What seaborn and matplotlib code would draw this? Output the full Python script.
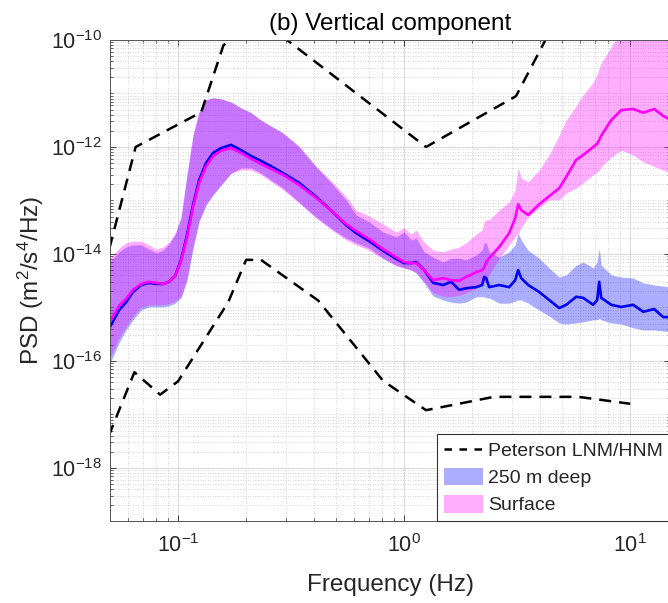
import numpy as np
import pandas as pd
import seaborn as sns
import matplotlib
matplotlib.use("Agg")
import matplotlib.pyplot as plt
from matplotlib.lines import Line2D
from matplotlib.patches import Patch
from matplotlib.ticker import FixedLocator, LogLocator, LogFormatterSciNotation, NullFormatter

# frequencies (Hz) where the PSD curves were read
freq = [0.050, 0.0548, 0.0589, 0.0632, 0.0686, 0.0744, 0.0799, 0.0858, 0.0912, 0.0970,
        0.1031, 0.1096, 0.1165, 0.1239, 0.1330, 0.1429, 0.1550, 0.1716, 0.1900, 0.2104,
        0.2329, 0.2579, 0.2914, 0.3430, 0.4079, 0.4851, 0.5538, 0.6132, 0.7002, 0.8074,
        0.9217, 1.000, 1.074, 1.130, 1.226, 1.344, 1.488, 1.614, 1.751, 1.881,
        2.083, 2.214, 2.259, 2.306, 2.377, 2.633, 2.915, 3.099, 3.195, 3.294,
        3.537, 3.956, 4.381, 4.852, 5.211, 5.768, 6.194, 6.860, 7.145, 7.292,
        7.442, 8.241, 9.124, 10.31, 11.42, 12.77, 14.00, 15.18]

# PSD values in dB (10*log10 of m^2/s^4/Hz)
deep_median_db = [-153.6, -150.5, -149.0, -147.1, -145.8, -145.4, -145.6, -145.6, -145.2, -144.1,
                  -141.1, -136.4, -130.8, -126.2, -123.0, -121.1, -120.2, -119.6, -120.6, -121.7,
                  -122.6, -123.6, -124.9, -126.7, -129.3, -132.2, -134.6, -136.1, -137.6, -139.4,
                  -140.9, -141.7, -141.7, -141.5, -143.0, -145.4, -145.8, -145.2, -146.7, -146.4,
                  -146.2, -145.8, -144.3, -144.5, -146.2, -145.8, -146.2, -144.9, -143.0, -144.5,
                  -145.8, -147.1, -148.6, -150.1, -149.5, -148.0, -148.2, -149.5, -148.6, -145.2,
                  -148.2, -149.5, -149.9, -149.5, -150.8, -150.3, -151.8, -151.8]
deep_upper_db = [-141.5, -139.6, -138.7, -138.3, -138.3, -139.1, -139.8, -139.3, -138.1, -136.4,
                 -133.3, -125.2, -117.8, -113.5, -111.2, -110.8, -111.0, -111.6, -112.7, -113.6,
                 -115.0, -116.1, -117.4, -120.0, -123.7, -127.1, -129.9, -132.7, -134.0, -135.9,
                 -136.8, -135.9, -137.4, -137.0, -139.6, -140.6, -141.5, -140.8, -140.8, -141.1,
                 -140.2, -139.3, -137.9, -137.9, -139.6, -140.6, -139.6, -138.3, -136.1, -137.4,
                 -139.3, -140.8, -142.6, -144.3, -143.9, -142.1, -141.5, -142.6, -141.5, -138.9,
                 -142.1, -143.9, -144.3, -144.5, -145.4, -145.8, -146.0, -146.2]
deep_lower_db = [-160.4, -156.6, -154.2, -152.3, -150.5, -149.9, -149.9, -149.9, -149.7, -149.2,
                 -148.2, -144.9, -138.9, -134.0, -130.8, -129.0, -127.1, -124.9, -123.9, -123.9,
                 -124.9, -126.2, -127.7, -130.3, -133.1, -135.5, -137.0, -137.9, -138.9, -140.8,
                 -142.1, -142.6, -143.0, -143.6, -145.4, -147.9, -148.6, -149.0, -149.2, -149.0,
                 -148.0, -148.0, -148.0, -148.2, -148.2, -149.2, -149.2, -148.8, -148.6, -148.6,
                 -149.2, -150.5, -151.6, -152.9, -153.1, -152.9, -152.7, -152.3, -152.3, -152.0,
                 -152.3, -152.9, -153.1, -153.8, -154.2, -154.2, -154.4, -154.6]

surf_median_db = [-152.7, -149.7, -148.4, -146.7, -145.6, -145.2, -145.4, -145.6, -145.2, -144.1,
                  -141.3, -136.8, -131.2, -126.7, -123.6, -121.7, -120.7, -120.2, -121.1, -122.2,
                  -123.2, -124.1, -125.2, -127.1, -129.5, -132.2, -134.4, -135.7, -137.2, -139.1,
                  -140.6, -141.5, -141.7, -141.7, -143.0, -144.9, -144.5, -144.9, -145.0, -144.3,
                  -143.4, -143.0, -142.6, -141.5, -140.8, -138.7, -136.1, -133.3, -130.7, -131.8,
                  -132.7, -130.7, -129.2, -127.7, -125.6, -122.4, -121.5, -120.0, -119.4, -118.7,
                  -117.9, -115.0, -113.1, -112.9, -113.6, -112.9, -114.2, -115.0]
surf_upper_db = [-140.8, -138.9, -137.9, -137.6, -137.6, -138.3, -139.1, -138.7, -137.8, -136.1,
                 -132.9, -125.0, -117.6, -113.3, -111.2, -110.8, -111.0, -111.6, -112.7, -113.6,
                 -115.0, -116.1, -117.4, -119.8, -123.6, -126.7, -129.3, -131.8, -132.9, -134.4,
                 -135.9, -135.1, -136.3, -135.5, -137.8, -139.3, -139.6, -139.1, -138.7, -137.9,
                 -136.3, -135.5, -134.0, -133.6, -133.6, -131.8, -130.3, -128.0, -123.9, -125.8,
                 -126.5, -124.3, -121.5, -117.8, -115.0, -112.3, -110.3, -107.9, -106.4, -105.2,
                 -104.3, -101.3, -98.1, -95.3, -94.4, -94.4, -94.4, -94.4]
surf_lower_db = [-159.4, -155.7, -153.5, -151.6, -149.9, -149.5, -149.5, -149.5, -149.3, -148.8,
                 -147.9, -144.5, -138.5, -133.6, -130.7, -128.8, -127.1, -124.9, -124.3, -124.3,
                 -125.2, -126.5, -128.0, -130.5, -133.3, -135.7, -137.4, -138.3, -139.3, -140.9,
                 -142.2, -142.6, -143.0, -143.4, -145.2, -147.3, -147.9, -148.0, -147.7, -147.3,
                 -146.4, -145.8, -145.4, -144.9, -143.9, -140.8, -138.3, -136.8, -136.1, -135.1,
                 -133.1, -131.4, -129.9, -129.9, -128.6, -127.7, -126.7, -125.2, -124.7, -124.3,
                 -123.7, -121.9, -120.6, -121.5, -122.8, -123.6, -124.3, -125.0]

# Peterson (1993) noise models, breakpoints in Hz / dB
nlnm_freq = [0.0457, 0.0641, 0.0833, 0.1, 0.1667, 0.2, 0.2326, 0.4167, 0.8065, 1.25, 2.5, 5.882, 10.0]
nlnm_db = [-177.5, -162.1, -166.3, -163.8, -149.0, -141.1, -141.1, -148.7, -163.7, -169.2, -166.7, -166.7, -168.0]
nhnm_freq = [0.04, 0.05, 0.0649, 0.1266, 0.1587, 0.2174, 0.2632, 1.25, 3.125, 4.545, 10.0]
nhnm_db = [-137.5, -138.5, -120.0, -113.5, -101.0, -96.5, -98.0, -120.0, -110.5, -97.4, -91.5]


def db_to_psd(db):
    return 10 ** (np.asarray(db) / 10.0)


df = pd.DataFrame({
    "freq": freq,
    "deep_med": db_to_psd(deep_median_db),
    "deep_lo": db_to_psd(deep_lower_db),
    "deep_hi": db_to_psd(deep_upper_db),
    "surf_med": db_to_psd(surf_median_db),
    "surf_lo": db_to_psd(surf_lower_db),
    "surf_hi": db_to_psd(surf_upper_db),
})

sns.set_style("ticks")
plt.rcParams["font.family"] = ["Liberation Sans", "DejaVu Sans"]
plt.rcParams["mathtext.fontset"] = "custom"
plt.rcParams["mathtext.rm"] = "Liberation Sans"
plt.rcParams["mathtext.it"] = "Liberation Sans:italic"
plt.rcParams["mathtext.bf"] = "Liberation Sans:bold"
plt.rcParams["mathtext.default"] = "regular"

txt = "#262626"
fig = plt.figure(figsize=(6.68, 6.03), dpi=100)
ax = fig.add_axes([0.1647, 0.1352, 0.8383, 0.7985])
ax.set_xscale("log")
ax.set_yscale("log")

# shaded ranges
ax.fill_between(df["freq"], df["deep_lo"], df["deep_hi"], color=(0, 0, 1), alpha=0.32, lw=0)
ax.fill_between(df["freq"], df["surf_lo"], df["surf_hi"], color=(1, 0, 1), alpha=0.32, lw=0)

# medians
sns.lineplot(data=df, x="freq", y="deep_med", color=(0, 0, 0.95), lw=1.9, ax=ax, legend=False)
sns.lineplot(data=df, x="freq", y="surf_med", color=(1, 0, 1), lw=1.9, ax=ax, legend=False)

# Peterson noise models
for fx, db in [(nlnm_freq, nlnm_db), (nhnm_freq, nhnm_db)]:
    ln, = ax.plot(fx, db_to_psd(db), color="k", lw=1.8)
    ln.set_dashes((4.8, 3.2))

ax.set_xlim(0.05, 15)
ax.set_ylim(1e-19, 1e-10)

ax.yaxis.set_major_locator(FixedLocator([1e-18, 1e-16, 1e-14, 1e-12, 1e-10]))
ax.yaxis.set_minor_locator(LogLocator(base=10, subs=np.arange(1, 10), numticks=40))
ax.yaxis.set_major_formatter(LogFormatterSciNotation())
ax.yaxis.set_minor_formatter(NullFormatter())
ax.xaxis.set_major_locator(FixedLocator([0.1, 1, 10]))
ax.xaxis.set_minor_locator(LogLocator(base=10, subs=np.arange(2, 10), numticks=20))
ax.xaxis.set_minor_formatter(NullFormatter())

ax.grid(which="major", color="#d9d9d9", lw=0.7, ls="-")
ax.grid(which="minor", color="#c8c8c8", lw=0.6, ls=(0, (1, 2)))
ax.set_axisbelow(True)

ax.tick_params(which="both", direction="in", top=True, right=True, colors=txt,
               labelsize=15.5, labelcolor=txt)
ax.tick_params(which="major", length=4.5, width=0.6)
ax.tick_params(which="minor", length=2.5, width=0.5)
ax.tick_params(axis="y", pad=6)
ax.tick_params(axis="x", pad=9)
for sp in ax.spines.values():
    sp.set_color("#555555")
    sp.set_linewidth(0.7)

ax.set_title("(b) Vertical component", fontsize=17.5, color="k", pad=7)
ax.set_xlabel("Frequency (Hz)", fontsize=17.5, color=txt, labelpad=12)
ax.set_ylabel("PSD (m$^2$/s$^4$/Hz)", fontsize=17.5, color=txt, labelpad=3)

handles = [
    Line2D([0], [0], color="k", lw=1.8, dashes=(3.0, 3.0)),
    Patch(facecolor=(0, 0, 1), alpha=0.32, edgecolor="none"),
    Patch(facecolor=(1, 0, 1), alpha=0.32, edgecolor="none"),
]
leg = ax.legend(handles, ["Peterson LNM/HNM", "250 m deep", "Surface"],
                loc="lower right", bbox_to_anchor=(1.0, 0.0), borderaxespad=0,
                fontsize=14, frameon=True, fancybox=False, framealpha=1,
                handlelength=2.0, handleheight=1.0, handletextpad=0.28,
                labelspacing=0.4, borderpad=0.36)
leg.get_frame().set_edgecolor("#333333")
leg.get_frame().set_linewidth(0.8)
for t in leg.get_texts():
    t.set_color(txt)

fig.savefig("out.png", dpi=100)
